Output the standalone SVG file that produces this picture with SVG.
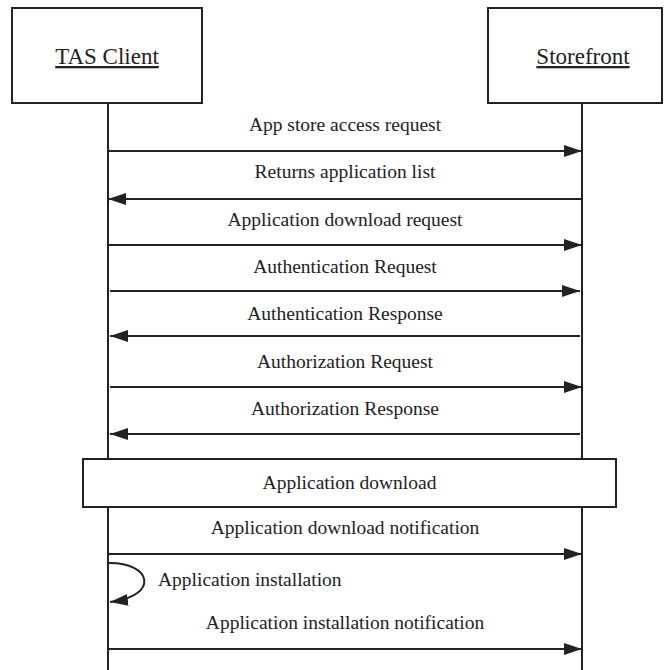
<svg xmlns="http://www.w3.org/2000/svg" width="664" height="670" viewBox="0 0 664 670">
<style>
.box{fill:#fff;stroke:#222;stroke-width:2}
.life{stroke:#222;stroke-width:2;fill:none}
.msg{stroke:#222;stroke-width:2;fill:none;marker-end:url(#ah)}
.title{font-family:'Liberation Serif','Times New Roman',serif;font-size:23px;fill:#222;text-anchor:middle;text-decoration:underline}
.lbl{font-family:'Liberation Serif','Times New Roman',serif;font-size:19.5px;fill:#222;text-anchor:middle}
.start{text-anchor:start}
</style>
<defs>
<marker id="ah" markerUnits="userSpaceOnUse" markerWidth="20" markerHeight="14" refX="18" refY="6" orient="auto">
<path d="M0,0 L18,6 L0,12 Z" fill="#222"/>
</marker>
</defs>
<rect width="664" height="670" fill="#fff"/>
<g id="tas-client">
<rect class="box" x="12" y="8" width="190" height="95"/>
<text class="title" x="107" y="64">TAS Client</text>
<line class="life" x1="108" y1="103" x2="108" y2="670"/>
</g>
<g id="storefront">
<rect class="box" x="488" y="8" width="174" height="95"/>
<text class="title" x="583" y="64">Storefront</text>
<line class="life" x1="582" y1="103" x2="582" y2="670"/>
</g>
<g id="connectors">
<line class="msg" x1="108" y1="151" x2="582" y2="151"/>
<line class="msg" x1="582" y1="199" x2="108" y2="199"/>
<line class="msg" x1="108" y1="245" x2="582" y2="245"/>
<line class="msg" x1="110" y1="291" x2="580" y2="291"/>
<line class="msg" x1="580" y1="336" x2="110" y2="336"/>
<line class="msg" x1="110" y1="387" x2="582" y2="387"/>
<line class="msg" x1="580" y1="434" x2="110" y2="434"/>
<line class="msg" x1="108" y1="554" x2="582" y2="554"/>
<path class="msg" d="M108,563 C152,562 160,596 110,602"/>
<line class="msg" x1="108" y1="649" x2="582" y2="649"/>
</g>
<g id="labels">
<text class="lbl" x="345" y="131">App store access request</text>
<text class="lbl" x="345" y="178">Returns application list</text>
<text class="lbl" x="345" y="226">Application download request</text>
<text class="lbl" x="345" y="273">Authentication Request</text>
<text class="lbl" x="345" y="320">Authentication Response</text>
<text class="lbl" x="345" y="368">Authorization Request</text>
<text class="lbl" x="345" y="415">Authorization Response</text>
<text class="lbl" x="345" y="534">Application download notification</text>
<text class="lbl start" x="158" y="586">Application installation</text>
<text class="lbl" x="345" y="629">Application installation notification</text>
</g>
<g id="application-download">
<rect class="box" x="83" y="459" width="533" height="48"/>
<text class="lbl" x="349.5" y="489">Application download</text>
</g>
</svg>
